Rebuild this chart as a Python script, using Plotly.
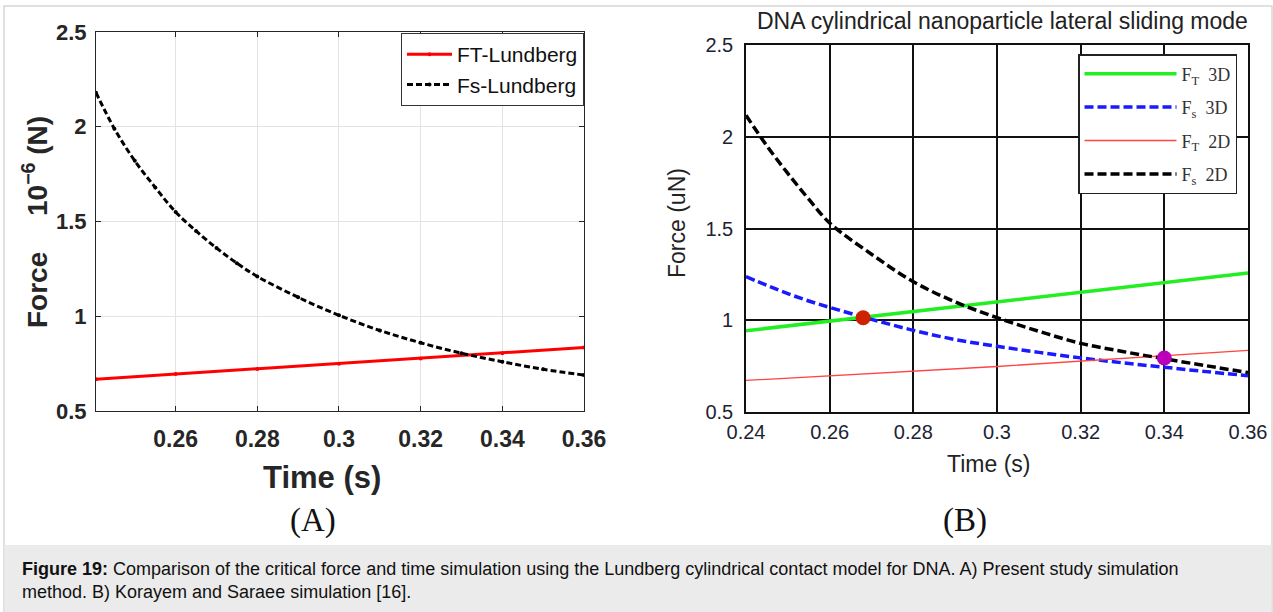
import plotly.graph_objects as go

# ---------------- data ----------------
# Panel A (present study)
a_time_fs = [0.2405, 0.245, 0.25, 0.255, 0.26, 0.265, 0.27, 0.275, 0.28, 0.29, 0.30,
             0.31, 0.32, 0.33, 0.34, 0.35, 0.36]
a_fs = [2.18, 1.99, 1.82, 1.68, 1.55, 1.45, 1.36, 1.28, 1.21, 1.10, 1.005,
        0.925, 0.86, 0.805, 0.76, 0.72, 0.69]
a_time_ft = [0.2405, 0.26, 0.28, 0.30, 0.32, 0.34, 0.36]
a_ft = [0.668, 0.695, 0.722, 0.749, 0.777, 0.805, 0.835]

# Panel B (Korayem and Saraee)
b_time = [0.24, 0.245, 0.25, 0.255, 0.26, 0.27, 0.28, 0.29, 0.30, 0.31, 0.32, 0.33,
          0.34, 0.35, 0.36]
b_fs2d = [2.117, 1.95, 1.80, 1.66, 1.53, 1.36, 1.21, 1.10, 1.014, 0.94, 0.874, 0.83,
          0.79, 0.752, 0.715]
b_fs3d = [1.238, 1.19, 1.145, 1.105, 1.07, 1.005, 0.945, 0.895, 0.858, 0.825, 0.795,
          0.768, 0.744, 0.72, 0.698]
b_time_lin = [0.24, 0.30, 0.36]
b_ft3d = [0.943, 1.098, 1.257]
b_ft2d = [0.672, 0.748, 0.836]
b_dot_time = [0.268, 0.34]
b_dot_force = [1.014, 0.794]

x_ticks = [0.24, 0.26, 0.28, 0.30, 0.32, 0.34, 0.36]
x_ticktext = ["0.24", "0.26", "0.28", "0.3", "0.32", "0.34", "0.36"]
y_ticks = [0.5, 1.0, 1.5, 2.0, 2.5]
y_ticktext = ["0.5", "1", "1.5", "2", "2.5"]

W, H = 1273, 612
SANS = "Liberation Sans, Arial, sans-serif"
SERIF = "Liberation Serif, Times New Roman, serif"


def px(x):
    return x / W


def py(y):
    return 1 - y / H


fig = go.Figure()

# ---- Panel A traces ----
fig.add_trace(go.Scatter(x=a_time_ft, y=a_ft, mode="lines+markers", name="FT-Lundberg",
                         line=dict(color="#ff0000", width=3), marker=dict(size=4, color="#ff0000"),
                         xaxis="x", yaxis="y", legend="legend", legendgroup="a1"))
fig.add_trace(go.Scatter(x=a_time_fs, y=a_fs, mode="lines+markers", name="Fs-Lundberg",
                         line=dict(color="#000000", width=3, dash="6px,3px", shape="spline"),
                         marker=dict(size=4, color="#000000"),
                         xaxis="x", yaxis="y", legend="legend", legendgroup="a2"))

# ---- Panel B traces ----
fig.add_trace(go.Scatter(x=b_time_lin, y=b_ft3d, mode="lines", name="F<sub>T</sub>  3D",
                         line=dict(color="#22ee22", width=3.5),
                         xaxis="x2", yaxis="y2", legend="legend2", legendgroup="b1"))
fig.add_trace(go.Scatter(x=b_time, y=b_fs3d, mode="lines", name="F<sub>s</sub>  3D",
                         line=dict(color="#1a1aff", width=3.5, dash="9px,4px", shape="spline"),
                         xaxis="x2", yaxis="y2", legend="legend2", legendgroup="b2"))
fig.add_trace(go.Scatter(x=b_time_lin, y=b_ft2d, mode="lines", name="F<sub>T</sub>  2D",
                         line=dict(color="#ff4444", width=1.3),
                         xaxis="x2", yaxis="y2", legend="legend2", legendgroup="b3"))
fig.add_trace(go.Scatter(x=b_time, y=b_fs2d, mode="lines", name="F<sub>s</sub>  2D",
                         line=dict(color="#000000", width=3.5, dash="9px,4px", shape="spline"),
                         xaxis="x2", yaxis="y2", legend="legend2", legendgroup="b4"))
fig.add_trace(go.Scatter(x=b_dot_time, y=b_dot_force, mode="markers", showlegend=False,
                         marker=dict(size=15, color=["#cc2200", "#bb00bb"]),
                         xaxis="x2", yaxis="y2"))

# ---- axes ----
axA = dict(showline=True, linecolor="#262626", linewidth=1.2, mirror="ticks",
           ticks="inside", ticklen=5, tickcolor="#262626", zeroline=False, automargin=False)
fig.update_layout(
    xaxis=dict(domain=[px(96), px(584)], range=[0.2405, 0.36], anchor="y",
               tickvals=x_ticks[1:], ticktext=x_ticktext[1:], showgrid=True,
               gridcolor="#e3e3e3", gridwidth=1,
               tickfont=dict(family=SANS, size=23, color="#262626", weight="bold"),
               ticklabelstandoff=7, **axA),
    yaxis=dict(domain=[py(411), py(32)], range=[0.5, 2.5], anchor="x",
               tickvals=y_ticks, ticktext=y_ticktext, showgrid=True,
               gridcolor="#e3e3e3", gridwidth=1,
               tickfont=dict(family=SANS, size=22, color="#262626", weight="bold"),
               ticklabelstandoff=4, **axA),
    xaxis2=dict(domain=[px(746), px(1248)], range=[0.24, 0.36], anchor="y2",
                tickvals=x_ticks, ticktext=x_ticktext, showgrid=True,
                gridcolor="#111111", gridwidth=1.6, showline=True, linecolor="#111111",
                linewidth=1.6, mirror=True, ticks="", zeroline=False, automargin=False,
                tickfont=dict(family=SANS, size=20, color="#1c2333"),
                ticklabelstandoff=1),
    yaxis2=dict(domain=[py(412), py(45)], range=[0.5, 2.5], anchor="x2",
                tickvals=y_ticks, ticktext=y_ticktext, showgrid=True,
                gridcolor="#111111", gridwidth=1.6, showline=True, linecolor="#111111",
                linewidth=1.6, mirror=True, ticks="", zeroline=False, automargin=False,
                tickfont=dict(family=SANS, size=20, color="#1c2333"),
                ticklabelstandoff=7),
)

# ---- legends ----
fig.update_layout(
    legend=dict(x=px(584), y=py(33), xanchor="right", yanchor="top",
                bgcolor="white", bordercolor="#333333", borderwidth=1,
                font=dict(family=SANS, size=21, color="#111111"),
                itemwidth=45, tracegroupgap=0),
    legend2=dict(x=px(1237), y=py(54), xanchor="right", yanchor="top",
                 bgcolor="white", bordercolor="#222222", borderwidth=1.5,
                 font=dict(family=SERIF, size=18, color="#333333"),
                 itemwidth=92, tracegroupgap=7),
)

# ---- background frame & caption band ----
shapes = [
    dict(type="rect", xref="paper", yref="paper", x0=px(4), x1=px(1272), y0=py(612), y1=py(6),
         line=dict(color="#d6d6d6", width=1.5), fillcolor="white", layer="below"),
    dict(type="rect", xref="paper", yref="paper", x0=px(4.5), x1=px(1271.5), y0=py(612), y1=py(545),
         line=dict(width=0), fillcolor="#ebebeb", layer="below"),
]

C = dict(xref="paper", yref="paper", xanchor="center", yanchor="middle", showarrow=False)
annotations = [
    dict(text="<b>Force\u2003 10<sup>\u22126</sup> (N)</b>", x=px(35), y=py(222), textangle=-90,
         font=dict(family=SANS, size=28, color="#262626"), **C),
    dict(text="<b>Time (s)</b>", x=px(322), y=py(477),
         font=dict(family=SANS, size=31, color="#262626"), **C),
    dict(text="(A)", x=px(313), y=py(520),
         font=dict(family=SERIF, size=33, color="#111111"), **C),
    dict(text="DNA cylindrical nanoparticle lateral sliding mode", x=px(1002), y=py(21),
         font=dict(family=SANS, size=23, color="#222222"), **C),
    dict(text="Force (uN)", x=px(677), y=py(223), textangle=-90,
         font=dict(family=SANS, size=23, color="#222222"), **C),
    dict(text="Time (s)", x=px(988), y=py(464),
         font=dict(family=SANS, size=23, color="#222222"), **C),
    dict(text="(B)", x=px(965), y=py(520),
         font=dict(family=SERIF, size=33, color="#111111"), **C),
    dict(text="<b>Figure 19:</b> Comparison of the critical force and time simulation using the Lundberg "
              "cylindrical contact model for DNA. A) Present study simulation<br>"
              "method. B) Korayem and Saraee simulation [16].",
         x=px(20), y=py(580), xref="paper", yref="paper", xanchor="left", yanchor="middle",
         align="left", showarrow=False,
         font=dict(family=SANS, size=18, color="#111111")),
]

fig.update_layout(
    width=W, height=H, margin=dict(l=0, r=0, t=0, b=0, pad=0, autoexpand=False),
    paper_bgcolor="white", plot_bgcolor="white",
    shapes=shapes, annotations=annotations,
)

fig.write_html("out.html")
